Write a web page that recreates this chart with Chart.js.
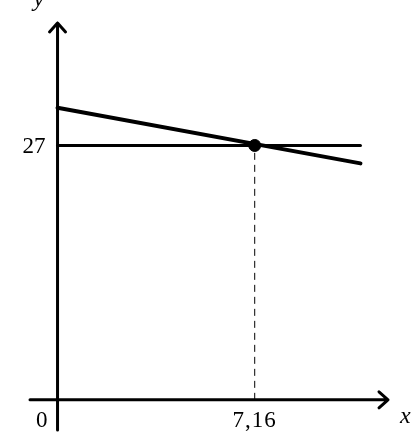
<!DOCTYPE html>
<html>
<head>
<meta charset="utf-8">
<script src="https://cdn.jsdelivr.net/npm/chart.js@4/dist/chart.umd.min.js"></script>
<style>
  html, body { margin: 0; padding: 0; background: #fff; }
  #wrap { width: 412px; height: 445px; }
</style>
</head>
<body>
<div id="wrap"><canvas id="chart" width="412" height="445"></canvas></div>
<script>
// -------------------- Data --------------------
const xRange = [-1, 12];
const yRange = [-3.2, 40];
const xTicks = [0, 7.16];
const xTickLabels = ["0", "7,16"];
const yTicks = [27];
const yTickLabels = ["27"];
const slopeX = [0, 11];
const slopeY = [31, 25.1];
const levelX = [0, 11];
const levelY = [27, 27];
const meetX = [7.16];
const meetY = [27];

const pairs = (xs, ys) => xs.map((x, i) => ({ x: x, y: ys[i] }));

// -------------------- Axes with arrows + labels --------------------
const axesPlugin = {
  id: "arrowAxes",
  beforeDatasetsDraw(chart) {
    const { ctx, scales: { x, y } } = chart;
    const x0 = x.getPixelForValue(0);
    const y0 = y.getPixelForValue(0);
    const xl = x.getPixelForValue(xRange[0]);
    const xr = x.getPixelForValue(xRange[1]);
    const yb = y.getPixelForValue(yRange[0]);
    const yt = y.getPixelForValue(yRange[1]);

    ctx.save();
    ctx.strokeStyle = "#000";
    ctx.lineWidth = 3;
    ctx.lineCap = "round";
    ctx.lineJoin = "round";

    // x axis
    ctx.beginPath();
    ctx.moveTo(xl, y0);
    ctx.lineTo(xr, y0);
    ctx.moveTo(xr - 9, y0 - 8);
    ctx.lineTo(xr, y0);
    ctx.lineTo(xr - 9, y0 + 8);
    ctx.stroke();

    // y axis
    ctx.beginPath();
    ctx.moveTo(x0, yb);
    ctx.lineTo(x0, yt);
    ctx.moveTo(x0 - 8, yt + 9);
    ctx.lineTo(x0, yt);
    ctx.lineTo(x0 + 8, yt + 9);
    ctx.stroke();

    // tick labels
    ctx.fillStyle = "#000";
    ctx.font = "23px 'Liberation Serif', serif";
    ctx.textBaseline = "alphabetic";
    xTicks.forEach((v, i) => {
      const px = x.getPixelForValue(v);
      if (v === 0) {
        ctx.textAlign = "right";
        ctx.fillText(xTickLabels[i], px - 10, y0 + 27);
      } else {
        ctx.textAlign = "center";
        ctx.letterSpacing = "1px";
        ctx.fillText(xTickLabels[i], px, y0 + 27);
        ctx.letterSpacing = "0px";
      }
    });
    ctx.textAlign = "right";
    ctx.textBaseline = "middle";
    yTicks.forEach((v, i) => {
      ctx.fillText(yTickLabels[i], x0 - 12, y.getPixelForValue(v) + 1);
    });

    // axis names
    ctx.font = "italic 24px 'Liberation Serif', serif";
    ctx.textBaseline = "alphabetic";
    ctx.textAlign = "left";
    ctx.fillText("x", xr + 12, y0 + 23);
    ctx.fillText("y", x0 - 24, yt - 17);
    ctx.restore();
  }
};

// -------------------- Chart --------------------
const ctx = document.getElementById("chart").getContext("2d");
const chart = new Chart(ctx, {
  type: "scatter",
  data: {
    datasets: [
      {
        data: pairs(meetX.concat(meetX), [0].concat(meetY)),
        showLine: true,
        borderColor: "#000",
        borderWidth: 1,
        borderDash: [7, 5],
        pointRadius: 0
      },
      {
        data: pairs(levelX, levelY),
        showLine: true,
        borderColor: "#000",
        borderWidth: 3,
        borderCapStyle: "round",
        pointRadius: 0
      },
      {
        data: pairs(slopeX, slopeY),
        showLine: true,
        borderColor: "#000",
        borderWidth: 4,
        borderCapStyle: "round",
        pointRadius: 0
      },
      {
        data: pairs(meetX, meetY),
        backgroundColor: "#000",
        borderColor: "#000",
        pointRadius: 6
      }
    ]
  },
  options: {
    responsive: false,
    animation: false,
    devicePixelRatio: 1,
    layout: { padding: { left: 30, right: 24, top: 23, bottom: 15 } },
    plugins: { legend: { display: false }, tooltip: { enabled: false } },
    scales: {
      x: { type: "linear", min: xRange[0], max: xRange[1], display: false },
      y: { type: "linear", min: yRange[0], max: yRange[1], display: false }
    }
  },
  plugins: [axesPlugin]
});
</script>
</body>
</html>
